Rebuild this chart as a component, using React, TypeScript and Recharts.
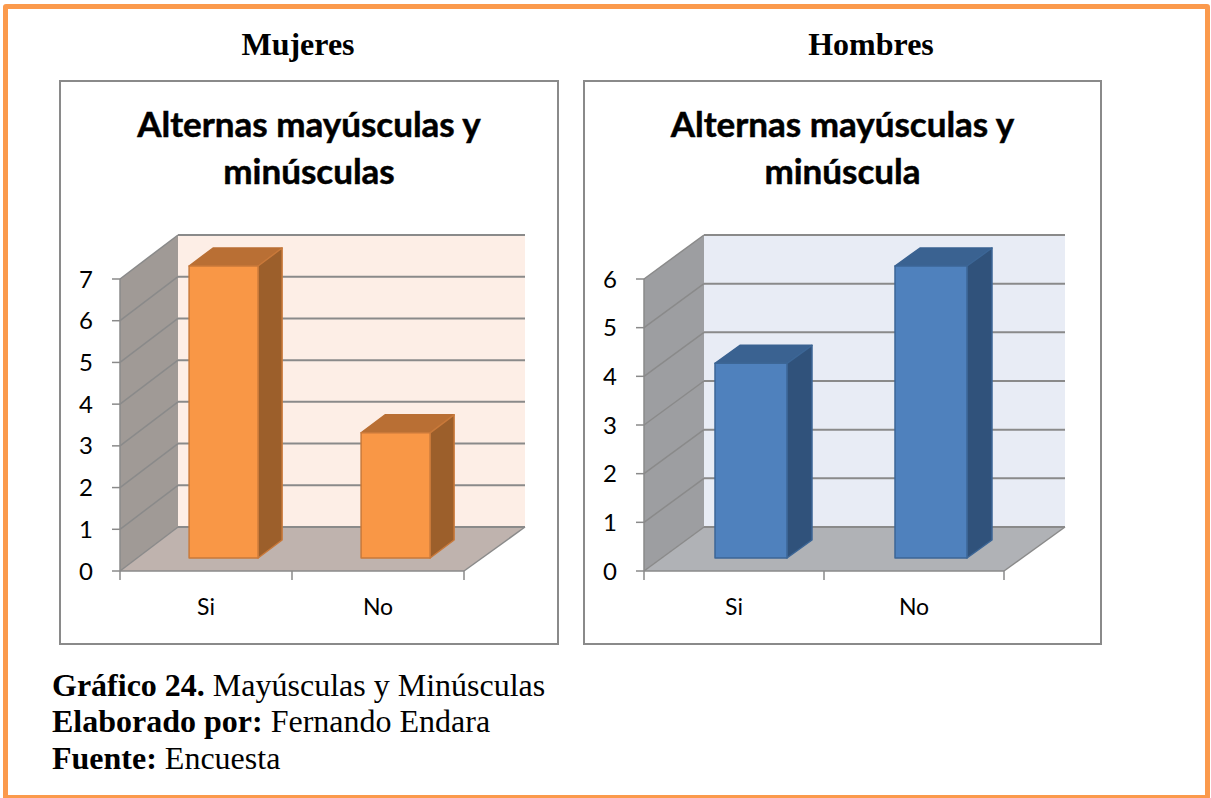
import { BarChart, Bar, XAxis, YAxis, CartesianGrid, usePlotArea } from "recharts";

const CATEGORIES = ["Si", "No"];
const MUJERES = [7, 3];
const HOMBRES = [4, 6];
const MUJERES_TICKS = [0, 1, 2, 3, 4, 5, 6, 7];
const HOMBRES_TICKS = [0, 1, 2, 3, 4, 5, 6];

const LINE = "#8a8a8a";

const ORANGE = { wall: "#a09a96", floor: "#bfb3ae", back: "#fdeee6", front: "#f99746", edge: "#c9793a", side: "#9c5f2b", top: "#b96f34" };
const BLUE = { wall: "#9d9ea1", floor: "#b0b2b6", back: "#e8ecf5", front: "#4f81bd", edge: "#3c6696", side: "#30527b", top: "#3a6291" };

type Palette = typeof ORANGE;

// floor, walls and the ticks under the category axis
function Walls({ c, dx, dy, n, extra }: { c: Palette; dx: number; dy: number; n: number; extra: number }) {
  const plot = usePlotArea();
  if (!plot) return null;
  const { x, y, width, height } = plot;
  const b = y + height;
  const r = x + width;
  return (
    <g>
      <rect x={x + dx} y={y - dy} width={width + extra} height={height} fill={c.back} />
      <polygon points={`${x},${y} ${x + dx},${y - dy} ${x + dx},${b - dy} ${x},${b}`} fill={c.wall} />
      <polygon points={`${x},${b} ${x + dx},${b - dy} ${r + dx + extra},${b - dy} ${r},${b}`} fill={c.floor} />
      <line x1={r} y1={b} x2={r + dx + extra} y2={b - dy} stroke={LINE} strokeWidth={1.5} />
      {Array.from({ length: n + 1 }, (_, i) => (
        <line key={i} x1={x + (i * width) / n} y1={b} x2={x + (i * width) / n} y2={b + 9} stroke={LINE} strokeWidth={1.5} />
      ))}
    </g>
  );
}

function Bar3D(props: any) {
  const { x, y, width, height, c, sx, sy, bx, by } = props;
  const l = x + sx;
  const t = y - sy;
  const r = l + width;
  const b = t + height;
  return (
    <g stroke={c.edge} strokeWidth={1.5} strokeLinejoin="round">
      <polygon points={`${l},${t} ${l + bx},${t - by} ${r + bx},${t - by} ${r},${t}`} fill={c.top} stroke={c.top} />
      <polygon points={`${r},${t} ${r + bx},${t - by} ${r + bx},${b - by} ${r},${b}`} fill={c.side} />
      <rect x={l} y={t} width={width} height={height} fill={c.front} />
    </g>
  );
}

function Panel(props: {
  left: number;
  width: number;
  heading: string;
  headingX: number;
  title: string[];
  values: number[];
  ticks: number[];
  c: Palette;
  right: number;
  dx: number;
  sx: number;
  bx: number;
  extra: number;
}) {
  const { left, width, heading, headingX, title, values, ticks, c, right, dx, sx, bx, extra } = props;
  const data = CATEGORIES.map((name, i) => ({ name, value: values[i] }));
  const dy = 44;
  return (
    <>
      <div style={{ position: "absolute", left: headingX - 150, width: 300, top: 26, textAlign: "center", fontFamily: "'Liberation Serif'", fontWeight: "bold", fontSize: 32, lineHeight: "36px" }}>
        {heading}
      </div>
      <div style={{ position: "absolute", left, top: 80, width, height: 565, boxSizing: "border-box", border: `2px solid ${LINE}`, background: "#fff" }} />
      <div style={{ position: "absolute", left, top: 81 }}>
        <BarChart width={width} height={563} data={data} barCategoryGap="30%" margin={{ top: 198, right, bottom: 33, left: 0 }}>
          <Walls c={c} dx={dx} dy={dy} n={CATEGORIES.length} extra={extra} />
          <CartesianGrid
            vertical={false}
            zIndex={1}
            horizontal={(p: any) => (
              <g key={p.key ?? p.index}>
                <line x1={p.x1} y1={p.y1} x2={p.x1 + dx} y2={p.y1 - dy} stroke={LINE} strokeWidth={1.5} />
                <line x1={p.x1 + dx} y1={p.y1 - dy} x2={p.x2 + dx + extra} y2={p.y1 - dy} stroke={LINE} strokeWidth={2} />
              </g>
            )}
          />
          <XAxis
            dataKey="name"
            height={40}
            stroke={LINE}
            strokeWidth={1.5}
            tickLine={false}
            tick={{ fill: "#000", fontFamily: "Lato", fontSize: 23 }}
            tickMargin={22}
          />
          <YAxis
            width={61}
            domain={[0, ticks[ticks.length - 1]]}
            ticks={ticks}
            interval={0}
            stroke={LINE}
            strokeWidth={1.5}
            tickSize={8}
            tickMargin={19}
            tick={{ fill: "#000", fontFamily: "Lato", fontSize: 24 }}
          />
          <Bar
            dataKey="value"
            isAnimationActive={false}
            shape={(s: any) => <Bar3D {...s} c={c} sx={sx} sy={13} bx={bx} by={18} />}
          />
        </BarChart>
      </div>
      <div style={{ position: "absolute", left, width, top: 100, textAlign: "center", fontFamily: "Lato", fontWeight: "bold", fontSize: 35, lineHeight: "46.5px", color: "#000", WebkitTextStroke: "0.5px #000" }}>
        {title.map((t) => (
          <div key={t}>{t}</div>
        ))}
      </div>
    </>
  );
}

export default function App() {
  const foot = { position: "absolute", left: 52, fontFamily: "'Liberation Serif'", fontSize: 32, lineHeight: "36px", color: "#000", whiteSpace: "nowrap" } as const;
  return (
    <div style={{ position: "absolute", left: 0, top: 0, width: 1211, height: 798, overflow: "hidden", background: "#fff" }}>
      <div style={{ position: "absolute", left: 3, top: 4, width: 1207, height: 796, boxSizing: "border-box", border: "5px solid #fb9a4c", borderRadius: 3 }} />
      <Panel left={59} width={500} heading="Mujeres" headingX={298} title={["Alternas mayúsculas y", "minúsculas"]} values={MUJERES} ticks={MUJERES_TICKS} c={ORANGE} right={95} dx={58} sx={17.5} bx={24} extra={3} />
      <Panel left={583} width={519} heading="Hombres" headingX={871} title={["Alternas mayúsculas y", "minúscula"]} values={HOMBRES} ticks={HOMBRES_TICKS} c={BLUE} right={98} dx={60} sx={17} bx={25} extra={1} />
      <div style={{ ...foot, top: 667 }}>
        <b>Gráfico 24.</b> Mayúsculas y Minúsculas
      </div>
      <div style={{ ...foot, top: 703 }}>
        <b>Elaborado por:</b> Fernando Endara
      </div>
      <div style={{ ...foot, top: 740 }}>
        <b>Fuente:</b> Encuesta
      </div>
    </div>
  );
}
